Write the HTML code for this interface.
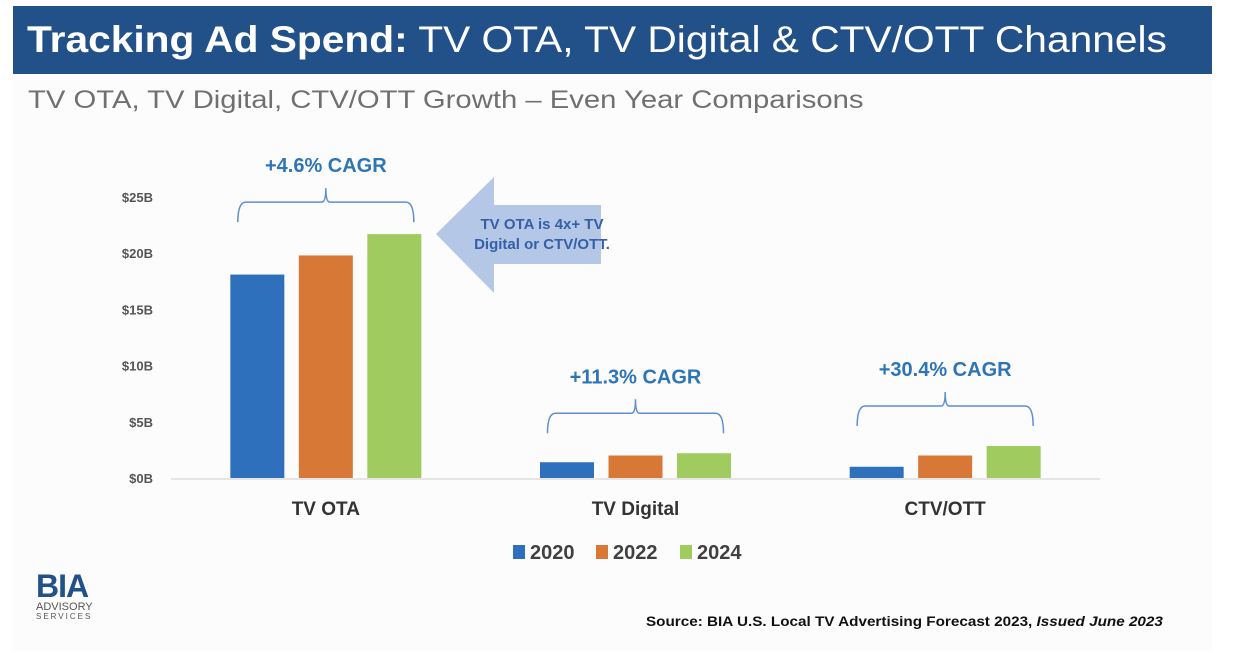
<!DOCTYPE html>
<html><head><meta charset="utf-8"><style>
body{margin:0;width:1242px;height:666px;background:#fff;font-family:"Liberation Sans",sans-serif;overflow:hidden;position:relative}
</style></head><body>
<div style="position:absolute;left:13px;top:0;width:1199px;height:650px;background:#fcfcfc"></div>
<div style="position:absolute;left:13px;top:6px;width:1199px;height:68px;background:#22518a"></div>
<div style="position:absolute;left:27px;top:6px;color:#fff;font-size:37px;line-height:68px;white-space:nowrap;transform:scaleX(1.1);transform-origin:0 0"><b>Tracking Ad Spend:</b> TV OTA, TV Digital &amp; CTV/OTT Channels</div>
<div style="position:absolute;left:28px;top:86px;font-size:25px;color:#707070;white-space:nowrap;transform:scaleX(1.17);transform-origin:0 0">TV OTA, TV Digital, CTV/OTT Growth – Even Year Comparisons</div>
<svg id="chart" width="1242" height="666" style="position:absolute;left:0;top:0" font-family="Liberation Sans, sans-serif"></svg>
<div style="position:absolute;left:36px;top:570px;color:#22518a;line-height:1">
<div style="font-size:32px;font-weight:bold;letter-spacing:-1px">BIA</div>
<div style="font-size:11px;color:#555">ADVISORY</div>
<div style="font-size:8px;color:#555;letter-spacing:2px">SERVICES</div></div>
<div style="position:absolute;left:646px;top:614px;font-size:13.5px;font-weight:bold;color:#111;white-space:nowrap;transform:scaleX(1.13);transform-origin:0 0">Source: BIA U.S. Local TV Advertising Forecast 2023, <i>Issued June 2023</i></div>
<script>
const categories=["TV OTA","TV Digital","CTV/OTT"];
const years=["2020","2022","2024"];
const v2020=[18.1,1.4,1.0];
const v2022=[19.8,2.0,2.0];
const v2024=[21.7,2.2,2.85];
const ticks=[0,5,10,15,20,25];
const cagr=["+4.6% CAGR","+11.3% CAGR","+30.4% CAGR"];
const colors=["#2e70bb","#d77836","#9fcb5f"];
const svg=document.getElementById('chart');const NS="http://www.w3.org/2000/svg";
function mk(t,a,p){const e=document.createElementNS(NS,t);for(const k in a)e.setAttribute(k,a[k]);(p||svg).appendChild(e);return e;}
const x0=171,x1=1100,y0=478,pxPerB=11.24;
const y=v=>y0-v*pxPerB;
const band=(x1-x0)/categories.length;
const cx=i=>x0+band*(i+0.5);
ticks.forEach(t=>{const e=mk('text',{x:153,y:y(t)+5,'text-anchor':'end','font-size':13,'font-weight':'bold',fill:'#555'});e.textContent='$'+t+'B';

});
const base=mk('line',{x1:x0,x2:x1,y1:y0+1,y2:y0+1,stroke:'#ddd','stroke-width':1.5});


const series=[v2020,v2022,v2024];
const bw=54,step=68.5;
categories.forEach((c,i)=>{
 let maxTop=y0;
 series.forEach((s,j)=>{const bx=cx(i)+(j-1)*step-bw/2;const r=mk('rect',{x:bx,y:y(s[i]),width:bw,height:y0-y(s[i]),fill:colors[j]});
 
 
 maxTop=Math.min(maxTop,y(s[i]));});
 const t=mk('text',{x:cx(i),y:515,'text-anchor':'middle','font-size':19,'font-weight':'bold',fill:'#333'});t.textContent=c;
 
 
 const by=i===0?maxTop-32:maxTop-40,l=cx(i)-88,r2=cx(i)+88;
 const br=mk('path',{d:`M${l},${by+20} Q${l},${by} ${l+8},${by} L${cx(i)-4},${by} Q${cx(i)},${by} ${cx(i)},${by-14} Q${cx(i)},${by} ${cx(i)+4},${by} L${r2-8},${by} Q${r2},${by} ${r2},${by+20}`,fill:'none',stroke:'#5b8fd0','stroke-width':1.5});
 
 
 const ct=mk('text',{x:cx(i),y:by-30,'text-anchor':'middle','font-size':20,'font-weight':'bold',fill:'#2e75b6'});ct.textContent=cagr[i];
 
 
});
const ar=mk('polygon',{points:'436,234 494,177 494,205 601,205 601,264 494,264 494,293',fill:'#b4c7e7'});


[['TV OTA is 4x+ TV',229],['Digital or CTV/OTT.',249]].forEach(([s,yy])=>{const e=mk('text',{x:542,y:yy,'text-anchor':'middle','font-size':15,'font-weight':'bold',fill:'#3560a8'});e.textContent=s;

});
const lx=[513,596,680];
years.forEach((yr,j)=>{const r=mk('rect',{x:lx[j],y:545,width:12,height:14,fill:colors[j]});


const t=mk('text',{x:lx[j]+17,y:559,'font-size':20,'font-weight':'bold',fill:'#404040'});t.textContent=yr;

});
</script>
</body></html>
